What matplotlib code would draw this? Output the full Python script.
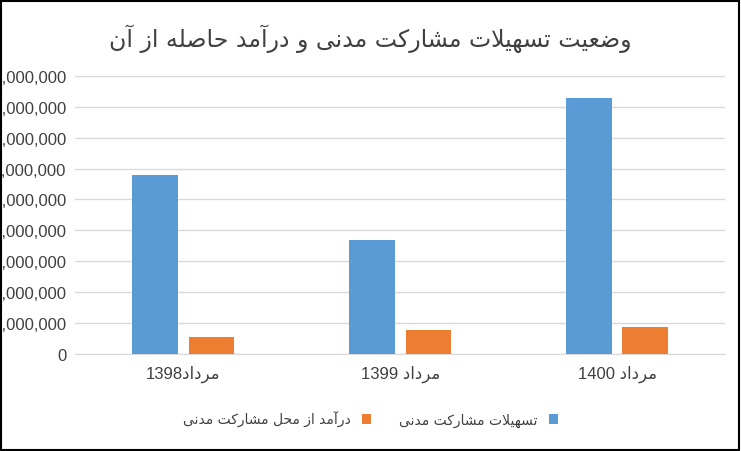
import matplotlib.pyplot as plt
import numpy as np
from matplotlib.ticker import FuncFormatter

# minimal Persian shaper (matplotlib does not join Arabic letters)
FORMS = {  # isolated, final, initial, medial
    'ا': (0xFE8D, 0xFE8E, None, None), 'آ': (0xFE81, 0xFE82, None, None),
    'د': (0xFEA9, 0xFEAA, None, None), 'ر': (0xFEAD, 0xFEAE, None, None),
    'ز': (0xFEAF, 0xFEB0, None, None), 'و': (0xFEED, 0xFEEE, None, None),
    'ت': (0xFE95, 0xFE96, 0xFE97, 0xFE98), 'ح': (0xFEA1, 0xFEA2, 0xFEA3, 0xFEA4),
    'س': (0xFEB1, 0xFEB2, 0xFEB3, 0xFEB4), 'ش': (0xFEB5, 0xFEB6, 0xFEB7, 0xFEB8),
    'ص': (0xFEB9, 0xFEBA, 0xFEBB, 0xFEBC), 'ض': (0xFEBD, 0xFEBE, 0xFEBF, 0xFEC0),
    'ع': (0xFEC9, 0xFECA, 0xFECB, 0xFECC), 'ل': (0xFEDD, 0xFEDE, 0xFEDF, 0xFEE0),
    'م': (0xFEE1, 0xFEE2, 0xFEE3, 0xFEE4), 'ن': (0xFEE5, 0xFEE6, 0xFEE7, 0xFEE8),
    'ه': (0xFEE9, 0xFEEA, 0xFEEB, 0xFEEC), 'ک': (0xFB8E, 0xFB8F, 0xFB90, 0xFB91),
    'ی': (0xFBFC, 0xFBFD, 0xFBFE, 0xFBFF),
}


def dual(c):
    return c in FORMS and FORMS[c][2] is not None


def shape(word):
    out = []
    i = 0
    while i < len(word):
        c = word[i]
        prev = word[i - 1] if i > 0 else ''
        joins_prev = dual(prev)
        if c == 'ل' and i + 1 < len(word) and word[i + 1] == 'ا':
            out.append(chr(0xFEFC if joins_prev else 0xFEFB))
            i += 2
            continue
        if c not in FORMS:
            out.append(c)
            i += 1
            continue
        nxt = word[i + 1] if i + 1 < len(word) else ''
        joins_next = dual(c) and nxt in FORMS
        iso, fin, ini, med = FORMS[c]
        if joins_prev and joins_next:
            f = med
        elif joins_prev:
            f = fin
        elif joins_next:
            f = ini
        else:
            f = iso
        out.append(chr(f))
        i += 1
    return ''.join(out)


def rtl(s):
    return shape(s)[::-1]


title = 'وضعیت تسهیلات مشارکت مدنی و درآمد حاصله از آن'
series_names = ['تسهیلات مشارکت مدنی', 'درآمد از محل مشارکت مدنی']
month = 'مرداد'
years = ['1398', '1399', '1400']
facilities = [116_000_000, 74_000_000, 165_500_000]
income = [11_000_000, 15_500_000, 17_500_000]

plt.rcParams['font.family'] = ['Liberation Sans', 'DejaVu Sans']

fig = plt.figure(figsize=(7.41, 4.52), dpi=100)
fig.patches.append(plt.Rectangle((0.002, 0.003), 0.995, 0.993, transform=fig.transFigure,
                                 fill=False, edgecolor='black', linewidth=1.5))
ax = fig.add_axes([0.101, 0.215, 0.878, 0.615])

x = np.arange(len(years))
w = 0.21
b1 = ax.bar(x - 0.13, facilities, w, color='#5B9BD5', zorder=3)
b2 = ax.bar(x + 0.13, income, w, color='#ED7D31', zorder=3)

ax.set_xlim(-0.5, 2.5)
ax.set_ylim(0, 180_000_000)
ax.set_yticks(np.arange(0, 180_000_001, 20_000_000))
ax.yaxis.set_major_formatter(FuncFormatter(lambda v, p: f'{v:,.0f}'))
ax.set_xticks(x)
ax.set_xticklabels([y + ('' if y == '1398' else ' ') + rtl(month) for y in years],
                   fontsize=12, color='#404040')
ax.tick_params(axis='y', labelsize=12, colors='#404040', length=0, pad=6)
ax.tick_params(axis='x', length=0, pad=8)
ax.grid(axis='y', color='#D9D9D9', linewidth=1, zorder=0)
for s in ['top', 'right', 'left']:
    ax.spines[s].set_visible(False)
ax.spines['bottom'].set_color('#D9D9D9')

fig.text(0.5, 0.915, rtl(title), ha='center', va='center', fontsize=17,
         color='#404040', family='DejaVu Sans')
leg = fig.legend([b2, b1], [rtl(series_names[1]), rtl(series_names[0])],
                 loc='center', bbox_to_anchor=(0.5, 0.07), ncol=2, frameon=False,
                 prop={'family': 'DejaVu Sans', 'size': 10}, handlelength=0.7,
                 handleheight=0.7, columnspacing=2, markerfirst=False)
for t in leg.get_texts():
    t.set_color('#404040')

fig.savefig('out.png', dpi=100)
